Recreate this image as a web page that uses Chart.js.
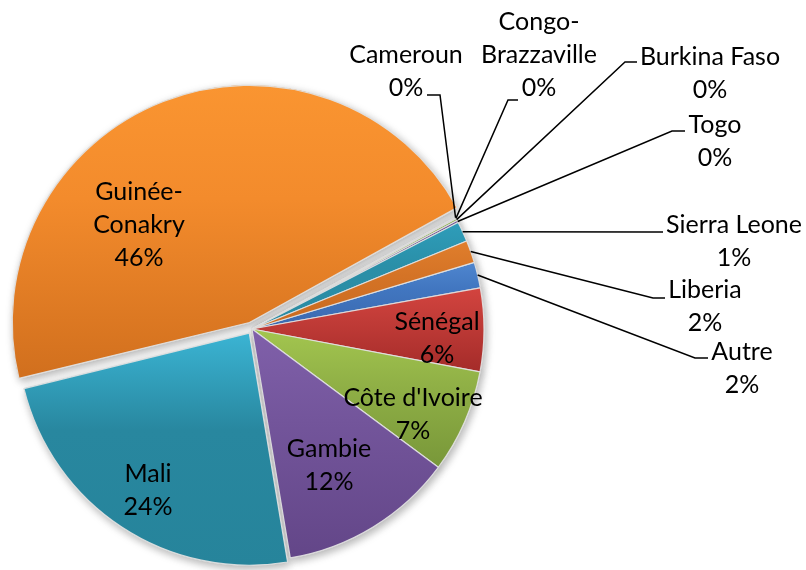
<!DOCTYPE html>
<html>
<head>
<meta charset="utf-8">
<script src="https://cdn.jsdelivr.net/npm/chart.js@4.4.1/dist/chart.umd.min.js"></script>
<style>
    html, body { margin: 0; padding: 0; background: #ffffff; }
    #wrap { width: 806px; height: 570px; }
</style>
</head>
<body>
<div id="wrap"><canvas id="origin_chart"></canvas></div>
<script>
// slices in drawing order, clockwise from the first one
const origin_labels = ["Autre", "Sénégal", "Côte d'Ivoire", "Gambie", "Mali", "Guinée-Conakry",
    "Cameroun", "Congo-Brazzaville", "Burkina Faso", "Togo", "Sierra Leone", "Liberia"];
const origin_values = [1.8, 5.8, 7.2, 12.2, 23.8, 45.85, 0.05, 0.05, 0.15, 0.15, 1.4, 1.55];

// top, middle and bottom shade of each slice
const origin_colours = [
    ["#4f86cf", "#4176c0", "#3a68ae"], ["#d3443f", "#c03b37", "#a42b29"],
    ["#a3c64f", "#90b046", "#789739"], ["#8060aa", "#73559b", "#634688"],
    ["#3ab2d1", "#28879f", "#26849b"], ["#fa9531", "#f38b2c", "#d2701e"],
    ["#3c68a0", "#35608f", "#2e5282"], ["#a03e3c", "#903735", "#80302e"],
    ["#8cae4a", "#7e9d42", "#708c3a"], ["#6a4f8e", "#5e4680", "#523c70"],
    ["#2e9dba", "#2a8fa8", "#2a8aa2"], ["#e07e2c", "#d47326", "#c8691f"]
];
const origin_offsets = [0, 0, 0, 0, 20, 28, 0, 0, 0, 0, 0, 0];

// label centre, relative to the pie centre
const label_places = [[490, 39], [185, 9], [161, 85], [77, 136], [-104, 161], [-113, -104],
    [154, -258], [287, -274], [458, -256], [463, -188], [482, -88], [453, -23]];
// leader lines: elbow and end, relative to the label centre (null = label inside)
const label_leaders = [[[-47, -10], [-34, -10]], null, null, null, null, null,
    [[34, 24], [21, 24]], [[-31, 45], [-21, 45]], [[-85, -11], [-73, -11]],
    [[-43, -10], [-30, -10]], [[-83, -9], [-71, -9]], [[-52, -8], [-40, -8]]];

const line_height = 33;

function label_lines(i)
{
    const total = origin_values.reduce((a, b) => a + b, 0);
    const pct = Math.round(origin_values[i] / total * 100) + "%";
    const name = origin_labels[i];
    const cut = name.indexOf("-");
    const parts = cut > 0 ? [name.slice(0, cut + 1), name.slice(cut + 1)] : [name];
    return parts.concat([pct]);
}

const slice_shading =
{
    id: "slice_shading",
    beforeDatasetsDraw(chart)
    {
        const ctx = chart.ctx;
        const arcs = chart.getDatasetMeta(0).data;
        arcs.forEach((arc, i) =>
        {
            const half = (arc.startAngle + arc.endAngle) / 2;
            const shift = (origin_offsets[i] || 0) / 4;
            const oy = arc.y + Math.sin(half) * shift;
            let top = oy, bottom = oy;
            for (let k = 0; k <= 40; k++)
            {
                const a = arc.startAngle + (arc.endAngle - arc.startAngle) * k / 40;
                const y = oy + Math.sin(a) * arc.outerRadius;
                top = Math.min(top, y);
                bottom = Math.max(bottom, y);
            }
            const grad = ctx.createLinearGradient(0, top, 0, bottom + 1);
            grad.addColorStop(0, origin_colours[i][0]);
            grad.addColorStop(0.4, origin_colours[i][1]);
            grad.addColorStop(1, origin_colours[i][2]);
            arc.options.backgroundColor = grad;
        });
        // soft shadow
        ctx.save();
        ctx.shadowColor = "rgba(0, 0, 0, 0.3)";
        ctx.shadowBlur = 8;
        ctx.shadowOffsetX = 2;
        ctx.shadowOffsetY = 3;
        arcs.forEach(arc => arc.draw(ctx));
        ctx.restore();
    }
};

const slice_labels =
{
    id: "slice_labels",
    afterDatasetsDraw(chart)
    {
        const ctx = chart.ctx;
        const arcs = chart.getDatasetMeta(0).data;
        const cx = arcs[0].x;
        const cy = arcs[0].y;
        ctx.save();
        ctx.font = "25px Lato";
        ctx.fillStyle = "#000000";
        ctx.textAlign = "center";
        ctx.textBaseline = "middle";
        ctx.strokeStyle = "#000000";
        ctx.lineWidth = 1.5;
        arcs.forEach((arc, i) =>
        {
            const lx = cx + label_places[i][0];
            const ly = cy + label_places[i][1];
            const leader = label_leaders[i];
            if (leader)
            {
                const mid = (arc.startAngle + arc.endAngle) / 2;
                ctx.beginPath();
                ctx.moveTo(arc.x + Math.cos(mid) * arc.outerRadius, arc.y + Math.sin(mid) * arc.outerRadius);
                ctx.lineTo(lx + leader[0][0], ly + leader[0][1]);
                ctx.lineTo(lx + leader[1][0], ly + leader[1][1]);
                ctx.stroke();
            }
            const lines = label_lines(i);
            lines.forEach((t, k) =>
            {
                ctx.fillText(t, lx, ly - (lines.length - 1) * line_height / 2 + k * line_height);
            });
        });
        ctx.restore();
    }
};

const origin_chart = new Chart("origin_chart",
{
    type: "pie",
    data:
    {
        labels: origin_labels,
        datasets:
        [
            {
                data: origin_values,
                backgroundColor: (c) => origin_colours[c.dataIndex][2],
                borderColor: "rgba(225, 225, 225, 0.9)",
                borderWidth: 1.2,
                offset: origin_offsets
            }
        ]
    },
    options:
    {
        animation: false,
        responsive: true,
        maintainAspectRatio: false,
        rotation: 73.3,
        radius: 232,
        layout:
        {
            padding: { left: 0, right: 302, top: 88, bottom: 0 }
        },
        plugins:
        {
            legend: { display: false },
            tooltip: { enabled: false }
        }
    },
    plugins: [slice_shading, slice_labels]
});
</script>
</body>
</html>
